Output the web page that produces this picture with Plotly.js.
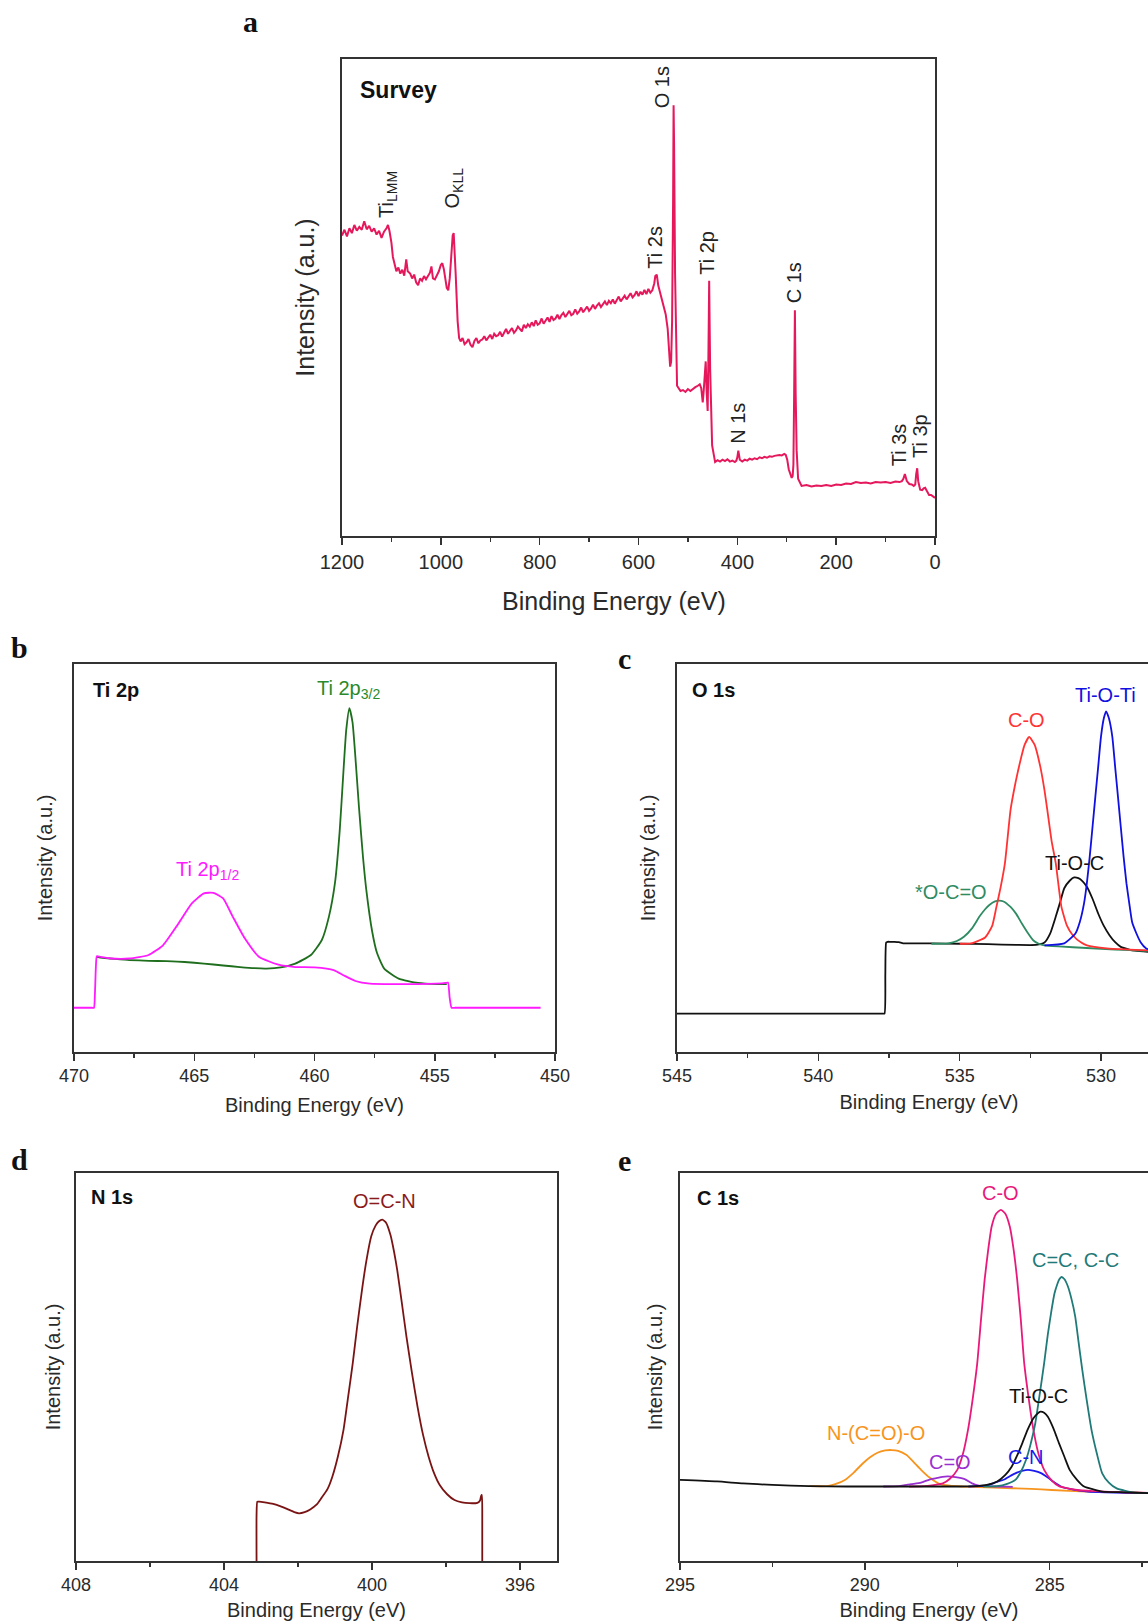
<!DOCTYPE html>
<html>
<head>
<meta charset="utf-8">
<script src="https://cdn.plot.ly/plotly-3.0.1.min.js"></script>
<style>
html,body{margin:0;padding:0;overflow:hidden;background:#fff;width:1148px;height:1624px;}
#wrap{width:1148px;height:1624px;overflow:hidden;position:relative;}
#chart{width:1300px;height:1624px;}
</style>
</head>
<body>
<div id="wrap"><div id="chart"></div></div>
<script>
// ---------- Panel a: survey ----------
const surveyBE = [1200,1195,1190,1185,1180,1175,1170,1165,1160,1155,1150,1145,1140,1135,1130,1125,1120,1115,1110,1107,1104,1100,1097,1094,1090,1086,1082,1078,1074,1070,1067,1062,1058,1054,1050,1046,1042,1038,1034,1030,1026,1022,1019,1016,1012,1008,1004,1000,997,994,991,988,985,982,979,976,974,972,970,968,966,963,960,956,952,948,944,940,936,932,928,924,920,916,912,908,904,900,896,892,888,884,880,876,872,868,864,860,856,852,848,844,840,836,832,828,824,820,816,812,808,804,800,796,792,788,784,780,776,772,768,764,760,756,752,748,744,740,736,732,728,724,720,716,712,708,704,700,696,692,688,684,680,676,672,668,664,660,656,652,648,644,640,636,632,628,624,620,616,612,608,604,600,596,592,588,584,580,576,572,568,566,563,560,555,550,545,541,538,536,534,532,530,529,528,526,524,522,515,510,505,500,495,490,485,480,476,473,470,468,466,464,462,460,458.5,457,455,453,451,445,440,435,430,425,420,415,410,405,402,400,398,395,390,385,380,375,370,365,360,355,350,345,340,335,330,325,320,315,310,305,302,299,296,292,290,288,286.5,285,283.5,282,280,277,270,260,250,240,230,220,210,200,190,180,170,160,150,140,130,120,110,100,90,80,72,67,64,61,57,52,47,43,40,38,36,34,30,26,23,20,16,12,8,4,0];
const surveyInt = [63.0,64.2,62.8,64.5,63.5,65.2,64.0,64.8,64.2,66.0,64.3,65.0,63.8,64.5,63.2,64.0,62.5,63.8,64.5,65.2,64.0,61.5,58.5,57.0,55.5,56.3,55.0,55.8,54.6,58.0,55.5,55.0,54.0,54.8,53.2,52.6,54.0,53.5,54.5,53.8,54.6,55.2,56.5,54.0,53.8,54.5,55.5,56.8,57.2,56.0,53.5,52.0,51.5,54.0,58.5,63.0,63.5,60.0,55.0,50.0,45.0,41.5,40.8,41.5,40.2,40.6,41.3,40.1,39.6,40.9,41.5,40.4,41.0,41.2,41.9,41.0,41.6,42.2,41.3,42.4,41.9,42.1,42.8,41.8,42.6,43.4,42.4,43.0,43.6,42.6,43.1,43.9,43.3,42.9,44.3,43.6,44.4,43.9,44.8,44.0,45.2,44.3,44.6,45.6,44.5,45.1,45.8,44.9,46.1,45.3,45.6,46.4,45.5,46.3,46.8,45.9,46.6,47.2,46.3,46.6,47.5,46.6,47.1,47.9,46.9,47.6,48.1,47.2,47.7,48.5,47.6,48.3,48.8,48.0,48.5,49.2,48.4,49.3,48.8,49.6,48.7,49.4,50.2,49.2,49.7,50.4,49.6,50.3,50.9,50.0,50.5,51.3,50.3,51.2,50.6,51.6,50.7,51.8,51.0,51.5,53.0,54.5,54.8,52.5,50.5,49.0,46.5,43.5,39.5,35.5,36.5,45.0,70.0,90.3,82.0,55.0,38.0,31.5,30.4,30.6,30.2,30.8,30.4,30.9,31.2,31.5,31.8,31.0,28.0,30.5,33.0,36.6,30.0,26.2,38.0,53.5,35.0,24.0,19.0,15.5,15.9,15.6,16.0,15.7,16.1,15.6,15.8,15.5,15.8,16.5,17.9,16.0,15.6,16.0,15.8,16.2,16.0,16.3,16.1,16.5,16.3,16.6,16.4,16.7,16.6,16.8,16.9,17.0,16.9,17.2,17.0,16.0,14.0,13.0,12.2,12.6,15.0,30.0,47.3,30.0,18.0,12.0,10.5,10.7,10.4,10.6,10.5,10.7,10.5,10.8,10.7,11.0,10.9,11.3,11.1,11.2,11.0,11.3,11.2,11.3,11.1,11.4,11.3,11.5,12.0,13.0,11.5,10.9,10.8,10.5,10.8,13.0,14.2,11.5,9.7,9.6,10.0,10.1,9.2,8.6,8.6,8.3,8.0,8.0];
const surveyLabels = ["Ti<sub>LMM</sub>","O<sub>KLL</sub>","Ti 2s","O 1s","Ti 2p","N 1s","C 1s","Ti 3s","Ti 3p"];
const surveyLabelBE = [1107,975,566,553,462,398,285,71,30];
const surveyLabelY = [71.7,72.9,60.5,94,59.3,23.6,53,19.2,21];

// ---------- Panel b: Ti 2p ----------
const ti12BE = [470,469.6,469.25,469.17,469.13,469.09,469.05,468.9,468.46,467.7,466.9,466.3,465.7,465.1,464.6,464.2,463.8,463.4,462.9,462.3,461.5,460.8,460.0,459.2,458.8,458.3,457.7,456.2,454.7,454.55,454.45,454.38,454.3,454.15,453,450.6];
const ti12Int = [11.4,11.4,11.4,11.4,15,22,24.7,24.5,24.1,24.1,25.0,27.5,32.7,38.3,40.9,41.0,39.6,34.9,29.3,24.5,22.5,21.9,21.8,21.1,19.8,18.3,17.6,17.5,17.7,17.8,17.9,14,11.4,11.4,11.4,11.4];
const ti32BE = [469.05,468.9,468.5,467.7,466.9,466.15,465.4,464.6,463.8,463.1,462.5,462.0,461.4,460.8,460.15,459.7,459.4,459.15,458.95,458.8,458.68,458.55,458.42,458.3,458.15,457.98,457.85,457.6,457.4,457.1,456.5,455.7,454.9,454.5];
const ti32Int = [24.5,24.3,24.1,23.7,23.5,23.4,23.2,22.8,22.3,21.9,21.6,21.5,21.8,22.8,25.0,28.8,34.9,43.5,57.2,72,83,88.6,85,76,63,50,42,31,25.5,21.5,18.9,17.8,17.5,17.5];

// ---------- Panel c: O 1s ----------
const o1sBgBE = [545,541,538.2,537.75,537.66,537.63,537.6,537.55,537.45,537.3,537.15,537.0,536.8,536.0,535.0,534.0,533.0,532.3,532.0,531.8,531.6,531.45,531.3,531.1,530.95,530.8,530.65,530.5,530.3,530.1,529.9,529.7,529.5,529.3,529.0,528.8,528.3,527.5,526.5,525];
const o1sBgInt = [9.9,9.9,9.9,9.9,9.9,20,28.2,28.4,28.4,28.4,28.3,28.0,28.0,28.0,27.9,27.8,27.6,27.6,28.2,30.5,34.9,38.5,42.2,44.2,45.0,44.8,44.0,42.6,39.5,35.7,32.5,30.1,28.3,27.1,26.4,26.1,25.8,25.5,25.3,25.2];
const ocoBE = [536.0,535.4,535.1,534.85,534.55,534.3,534.1,533.95,533.75,533.6,533.45,533.2,533.0,532.8,532.6,532.4,532.2,532.0,531.5,530.5,529.5,528.5,527.5,526.5,525];
const ocoInt = [27.9,28.0,28.6,29.7,32.0,34.9,36.8,37.9,38.8,39.0,38.8,37.4,35.6,33.1,30.8,28.8,27.9,27.5,27.2,26.8,26.4,26.1,25.8,25.5,25.3];
const coBE = [535.0,534.6,534.1,533.85,533.7,533.55,533.4,533.2,533.05,532.9,532.7,532.54,532.35,532.15,532.0,531.9,531.75,531.6,531.4,531.2,531.0,530.7,530.5,529.8,529,528];
const coInt = [27.9,28.0,29.5,32.5,37.4,42.5,48.6,62.4,68.5,73.6,79.2,81.2,79.2,73.6,67.5,62.4,54.5,48.6,37.4,32.5,30.1,28.2,27.5,26.7,26.4,26.1];
const tiotiBE = [532.0,531.3,530.9,530.75,530.6,530.5,530.4,530.3,530.2,530.1,530.0,529.9,529.82,529.72,529.6,529.5,529.4,529.3,529.2,529.1,529.0,528.9,528.75,528.6,528.4,528.0,527.0,526,525];
const tiotiInt = [27.5,28.0,30.6,33.5,38.3,43.5,50.3,58.0,65.8,73.5,81.3,86.0,87.8,86.0,81.3,73.5,65.8,58.0,50.3,43.5,38.3,33.5,30.6,28.3,26.7,26.0,25.6,25.4,25.2];

// ---------- Panel d: N 1s ----------
const n1sBE = [403.12,403.12,403.1,403.05,402.9,402.67,402.45,402.27,402.1,401.97,401.82,401.67,401.5,401.37,401.2,401.07,400.92,400.77,400.65,400.52,400.4,400.27,400.15,400.02,399.9,399.82,399.72,399.62,399.5,399.4,399.32,399.2,399.07,398.92,398.77,398.62,398.47,398.32,398.17,397.97,397.77,397.57,397.37,397.15,397.08,397.05,397.03,397.02,397.02];
const n1sInt = [0,12,15.3,15.3,15.1,14.7,14.0,13.3,12.6,12.3,12.6,13.3,14.5,16.2,18.6,21.8,27.0,33.8,42.0,51.0,60.5,69.9,77.5,83.7,86.5,87.5,88.0,87.2,84.0,79.5,75.1,67.0,57.9,48.5,39.8,32.5,26.9,22.6,19.6,17.2,15.7,15.1,14.9,15.0,15.6,16.8,17.0,10,0];

// ---------- Panel e: C 1s ----------
const c1sBgBE = [295,294,293.3,292.5,291.5,290.5,289.5,288.5,287.5,287.0,286.7,286.42,286.2,286.03,285.88,285.74,285.6,285.44,285.33,285.25,285.15,285.05,284.9,284.75,284.6,284.46,284.25,284.07,283.8,283.58,283.0,282.3,281.5,280];
const c1sBgInt = [20.9,20.5,20.0,19.6,19.3,19.2,19.2,19.2,19.2,19.3,19.6,20.5,22.2,24.3,27.2,30.4,33.8,36.8,38.0,38.5,38.2,37.2,34.2,30.4,26.8,23.5,20.8,19.2,18.4,17.9,17.7,17.5,17.4,17.3];
const ncooBE = [291.5,291.03,290.8,290.54,290.3,290.05,289.85,289.66,289.45,289.28,289.1,288.87,288.68,288.48,288.25,287.99,287.7,287.4,286.5,285.5,284.95,284,283,282.3,281,280];
const ncooInt = [19.3,19.3,19.8,20.9,22.8,25.2,26.8,27.9,28.5,28.6,28.4,27.3,25.5,23.5,21.5,19.9,19.4,19.2,18.9,18.6,18.3,17.9,17.7,17.5,17.4,17.3];
const cdoBE = [289.5,289.07,288.75,288.48,288.25,288.09,287.9,287.75,287.55,287.3,287.1,286.91,286.7,286.42,286];
const cdoInt = [19.2,19.3,19.8,20.2,21.0,21.3,21.7,21.8,21.6,21.1,20.0,19.4,19.3,19.2,19.1];
const cnBE = [287.2,286.72,286.45,286.23,286.05,285.93,285.75,285.59,285.42,285.25,285.05,284.85,284.65,284.46,283.97,283.5,282.5,281,280];
const cnInt = [19.2,19.4,20.3,21.0,22.0,22.6,23.2,23.5,23.2,22.7,21.5,20.1,19.0,18.6,17.9,17.7,17.5,17.4,17.3];
const ccoBE = [288.8,288.38,288.1,287.89,287.7,287.5,287.35,287.21,287.08,286.96,286.86,286.76,286.66,286.57,286.45,286.32,286.2,286.08,285.98,285.88,285.78,285.69,285.57,285.44,285.3,285.15,284.95,284.75,284.26,283.77,283,282,281,280];
const ccoInt = [19.2,19.3,19.6,20.0,21.2,23.5,27.5,33.8,42.0,51.0,62.0,72.5,80.5,86.2,89.5,90.5,89.5,86.2,80.5,72.5,62.0,51.0,42.0,33.8,27.5,23.5,20.8,19.3,18.3,18.0,17.7,17.5,17.4,17.3];
const cccBE = [286.8,286.42,286.15,285.93,285.78,285.64,285.52,285.39,285.27,285.15,285.05,284.95,284.87,284.8,284.74,284.68,284.6,284.51,284.41,284.31,284.22,284.12,284.0,283.87,283.72,283.58,283.4,283.19,282.7,282.2,281,280];
const cccInt = [19.2,19.3,19.9,20.9,23.0,26.1,30.0,35.5,43.0,51.0,58.5,64.7,69.0,71.2,72.6,73.2,72.6,70.8,67.5,63.0,56.5,49.3,41.5,33.8,27.5,22.6,20.2,18.7,17.6,17.5,17.4,17.3];

// ---------- layout helpers ----------
const W = 1300, H = 1624;
const px = v => v / W;
const py = v => 1 - v / H;
const FONT = 'Liberation Sans, Arial, sans-serif';
const TXT = '#2a2a2a';

function line(x, y, color, xa, ya, shape, w) {
  return {x: x, y: y, xaxis: xa, yaxis: ya, type: 'scatter', mode: 'lines',
          line: {color: color, width: w || 1.8, shape: shape || 'spline', smoothing: 0.5},
          hoverinfo: 'skip', showlegend: false};
}

const traces = [
  line(surveyBE, surveyInt, '#e5185c', 'x', 'y', 'linear', 2),
  line(ti32BE, ti32Int, '#1e6e1e', 'x2', 'y2'),
  line(ti12BE, ti12Int, '#ff1aff', 'x2', 'y2'),
  line(o1sBgBE, o1sBgInt, '#111111', 'x3', 'y3'),
  line(ocoBE, ocoInt, '#2e8b62', 'x3', 'y3'),
  line(coBE, coInt, '#ff3333', 'x3', 'y3'),
  line(tiotiBE, tiotiInt, '#1010e0', 'x3', 'y3'),
  line(n1sBE, n1sInt, '#7a1414', 'x4', 'y4'),
  line(ncooBE, ncooInt, '#f7941d', 'x5', 'y5'),
  line(cdoBE, cdoInt, '#9b30d0', 'x5', 'y5'),
  line(cnBE, cnInt, '#1a1aee', 'x5', 'y5'),
  line(ccoBE, ccoInt, '#e8197a', 'x5', 'y5'),
  line(cccBE, cccInt, '#1f7a78', 'x5', 'y5'),
  line(c1sBgBE, c1sBgInt, '#111111', 'x5', 'y5'),
];

function xAxis(domL, domR, range, dtick, mdtick, anchor, tickSize, titleSize, standoff, titleText) {
  return {domain: [px(domL), px(domR)], range: range, anchor: anchor,
    showline: true, mirror: true, linecolor: '#333', linewidth: 1.6,
    ticks: 'outside', ticklen: 7, tickwidth: 1.5, tickcolor: '#333',
    dtick: dtick, tick0: 0, showgrid: false, zeroline: false,
    minor: {dtick: mdtick, ticks: 'outside', ticklen: 4, tickwidth: 1.3, tickcolor: '#333', showgrid: false},
    tickfont: {family: FONT, size: tickSize, color: TXT},
    title: {text: titleText, font: {family: FONT, size: titleSize, color: TXT}, standoff: standoff},
    automargin: false, fixedrange: true};
}
function yAxis(domT, domB, anchor, titleSize, standoff) {
  return {domain: [py(domB), py(domT)], range: [0, 100], anchor: anchor,
    showline: true, mirror: true, linecolor: '#333', linewidth: 1.6,
    ticks: '', showticklabels: false, showgrid: false, zeroline: false,
    title: {text: 'Intensity (a.u.)', font: {family: FONT, size: titleSize, color: TXT}, standoff: standoff},
    automargin: false, fixedrange: true};
}

const annotations = [];
function txt(text, x, y, xref, yref, size, color, opts) {
  annotations.push(Object.assign({text: text, x: x, y: y, xref: xref, yref: yref, showarrow: false,
    font: {family: FONT, size: size, color: color}, xanchor: 'center', yanchor: 'middle'}, opts || {}));
}
// panel letters
const LET = {family: 'Liberation Serif, Times New Roman, serif', size: 30, color: '#111'};
[['a', 250, 21], ['b', 19, 647], ['c', 624, 658], ['d', 19, 1159], ['e', 624, 1160]].forEach(l => {
  annotations.push({text: '<b>' + l[0] + '</b>', x: px(l[1]), y: py(l[2]), xref: 'paper', yref: 'paper',
    showarrow: false, font: LET, xanchor: 'center', yanchor: 'middle'});
});
// x title of survey (sits left of the axis centre in the reference)
txt('Binding Energy (eV)', px(614), py(601), 'paper', 'paper', 25, TXT);
// panel headers
[['Survey', 358, 90, 23], ['Ti 2p', 91, 690, 20], ['O 1s', 690, 690, 20], ['N 1s', 89, 1197, 20], ['C 1s', 695, 1198, 20]].forEach(h => {
  txt('<b>' + h[0] + '</b>', px(h[1]), py(h[2]), 'paper', 'paper', h[3], '#111', {xanchor: 'left'});
});
// survey peak labels (rotated)
surveyLabels.forEach((t, i) => txt(t, surveyLabelBE[i], surveyLabelY[i], 'x', 'y', 20, '#222', {textangle: -90}));
// Ti 2p
txt('Ti 2p<sub>3/2</sub>', 458.6, 93.4, 'x2', 'y2', 20, '#2a8a2a');
txt('Ti 2p<sub>1/2</sub>', 464.46, 46.9, 'x2', 'y2', 20, '#ff1aff');
// O 1s
txt('C-O', 532.63, 85.5, 'x3', 'y3', 20, '#ff3333');
txt('Ti-O-Ti', 529.85, 92.1, 'x3', 'y3', 20, '#1010e0');
txt('Ti-O-C', 530.94, 48.6, 'x3', 'y3', 20, '#111');
txt('*O-C=O', 535.3, 41.3, 'x3', 'y3', 20, '#2e8b62');
// N 1s
txt('O=C-N', 399.67, 92.7, 'x4', 'y4', 20, '#8b1a1a');
// C 1s
txt('C-O', 286.32, 94.8, 'x5', 'y5', 20, '#e8197a');
txt('C=C, C-C', 284.31, 77.6, 'x5', 'y5', 20, '#1f7a78');
txt('Ti-O-C', 285.29, 42.4, 'x5', 'y5', 20, '#111');
txt('N-(C=O)-O', 289.71, 32.9, 'x5', 'y5', 20, '#f7941d');
txt('C=O', 287.7, 25.4, 'x5', 'y5', 20, '#9b30d0');
txt('C-N', 285.64, 26.9, 'x5', 'y5', 20, '#1a1aee');

const layout = {
  width: W, height: H, margin: {l: 0, r: 0, t: 0, b: 0},
  paper_bgcolor: '#fff', plot_bgcolor: '#fff', showlegend: false,
  font: {family: FONT, color: TXT},
  xaxis: xAxis(342, 935, [1200, 0], 200, 100, 'y', 20, 25, 16, ''),
  yaxis: yAxis(59, 536, 'x', 25, 18),
  xaxis2: xAxis(74, 555, [470, 450], 5, 2.5, 'y2', 18, 20, 13, 'Binding Energy (eV)'),
  yaxis2: yAxis(664, 1052, 'x2', 20, 14),
  xaxis3: xAxis(677, 1181, [545, 527.17], 5, 2.5, 'y3', 18, 20, 10, 'Binding Energy (eV)'),
  yaxis3: yAxis(664, 1052, 'x3', 20, 14),
  xaxis4: xAxis(76, 557, [408, 395], 4, 2, 'y4', 18, 20, 9, 'Binding Energy (eV)'),
  yaxis4: yAxis(1173, 1561, 'x4', 20, 8),
  xaxis5: xAxis(680, 1178, [295, 281.53], 5, 2.5, 'y5', 18, 20, 9, 'Binding Energy (eV)'),
  yaxis5: yAxis(1173, 1561, 'x5', 20, 10),
  annotations: annotations
};

Plotly.newPlot('chart', traces, layout, {displayModeBar: false, staticPlot: true});
</script>
</body>
</html>
